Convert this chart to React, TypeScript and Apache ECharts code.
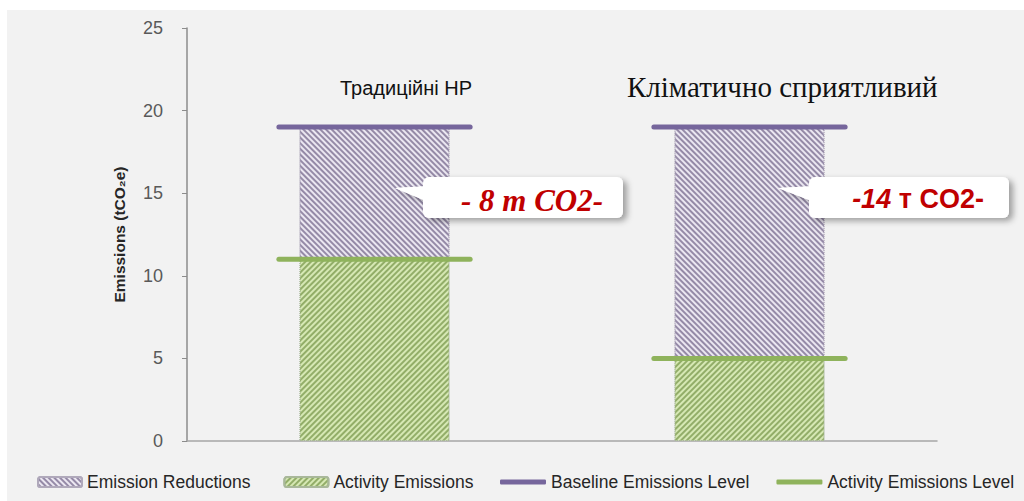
import React, { useEffect, useRef } from "react";
import * as echarts from "echarts";

const categories = ["Традиційні НР", "Кліматично сприятливий"];
const activityEmissions = [11, 5];
const emissionReductions = [8, 14];
const baselineLevel = [19, 19];
const activityLevel = [11, 5];
const calloutLeft = "- 8 т CO2-";
const calloutRightNum = "-14";
const calloutRightUnit = " т CO2-";
const yAxisName = "Emissions (tCO₂e)";
const seriesNames = [
  "Emission Reductions",
  "Activity Emissions",
  "Baseline Emissions Level",
  "Activity Emissions Level",
];

const PURPLE_LINE = "#76669c";
const GREEN_LINE = "#8fb35c";

function levelRenderer(color: string) {
  return (params: any, api: any) => {
    const c = api.coord([api.value(0), api.value(1)]);
    const w = api.size([1, 0])[0] * 0.51;
    return {
      type: "line",
      shape: { x1: c[0] - w / 2, y1: c[1], x2: c[0] + w / 2, y2: c[1] },
      style: { stroke: color, lineWidth: 5, lineCap: "round" },
    };
  };
}

export default function App() {
  const ref = useRef<HTMLDivElement>(null);
  useEffect(() => {
    if (!ref.current) return;
    const chart = echarts.init(ref.current, undefined, { renderer: "svg" });
    const purpleDecal = {
      symbol: "rect",
      color: "#958aa7",
      dashArrayX: [1, 0],
      dashArrayY: [2, 2],
      rotation: Math.PI / 4,
      symbolSize: 1,
    };
    const greenDecal = {
      symbol: "rect",
      color: "#92ad68",
      dashArrayX: [1, 0],
      dashArrayY: [2, 2],
      rotation: -Math.PI / 4,
      symbolSize: 1,
    };
    const calloutBox = (x: number, y: number, tx: number) => ({
      type: "group",
      children: [
        {
          type: "polygon",
          shape: { points: [[tx, y + 11], [x + 8, y + 9], [x + 8, y + 26]] },
          style: {
            fill: "#ffffff",
            shadowBlur: 5,
            shadowOffsetX: 2,
            shadowOffsetY: 3,
            shadowColor: "rgba(0,0,0,0.25)",
          },
          z: 9,
        },
        {
          type: "rect",
          shape: { x, y, width: 200, height: 41, r: 6 },
          style: {
            fill: "#ffffff",
            shadowBlur: 6,
            shadowOffsetX: 4,
            shadowOffsetY: 3,
            shadowColor: "rgba(0,0,0,0.35)",
          },
          z: 10,
        },
        {
          type: "polygon",
          shape: { points: [[tx, y + 11], [x + 8, y + 9], [x + 8, y + 26]] },
          style: { fill: "#ffffff" },
          z: 11,
        },
      ],
    });
    const legendText = { fontFamily: "Liberation Sans", fontSize: 17.5, color: "#262626" };
    chart.setOption({
      animation: false,
      backgroundColor: "transparent",
      grid: { left: 187, top: 28, bottom: 60, width: 750 },
      xAxis: {
        type: "category",
        data: categories,
        axisLabel: { show: false },
        axisTick: { show: false },
        axisLine: { lineStyle: { color: "#a6a6a6", width: 1.5 } },
      },
      yAxis: {
        type: "value",
        min: 0,
        max: 25,
        interval: 5,
        name: yAxisName,
        nameLocation: "middle",
        nameGap: 60,
        nameTextStyle: {
          fontFamily: "Liberation Sans",
          fontWeight: "bold",
          fontSize: 15.5,
          color: "#262626",
        },
        axisLine: { show: true, lineStyle: { color: "#8c8c8c", width: 1.5 } },
        axisTick: { show: true, length: 5, lineStyle: { color: "#8c8c8c" } },
        splitLine: { show: false },
        axisLabel: {
          fontFamily: "Liberation Sans",
          fontSize: 18,
          color: "#595959",
          margin: 24,
        },
      },
      legend: [
        {
          left: 32,
          top: 468,
          itemWidth: 44,
          itemHeight: 10,
          itemGap: 33,
          textStyle: legendText,
          data: [seriesNames[0], seriesNames[1]],
        },
        {
          left: 495,
          top: 468,
          itemWidth: 46,
          itemHeight: 5,
          itemGap: 27,
          textStyle: legendText,
          data: [
            { name: seriesNames[2], icon: "roundRect", itemStyle: { color: PURPLE_LINE } },
            { name: seriesNames[3], icon: "roundRect", itemStyle: { color: GREEN_LINE } },
          ],
        },
      ],
      series: [
        {
          name: seriesNames[1],
          type: "bar",
          stack: "total",
          barWidth: 150,
          data: activityEmissions,
          itemStyle: {
            color: "#d6e8b4",
            decal: greenDecal,
            borderColor: "#a9b89a",
            borderWidth: 1,
            borderType: "dotted",
          },
        },
        {
          name: seriesNames[0],
          type: "bar",
          stack: "total",
          barWidth: 150,
          data: emissionReductions,
          itemStyle: {
            color: "#ebe7f1",
            decal: purpleDecal,
            borderColor: "#b0a9bb",
            borderWidth: 1,
            borderType: "dotted",
          },
        },
        {
          name: seriesNames[2],
          type: "custom",
          renderItem: levelRenderer(PURPLE_LINE),
          data: baselineLevel.map((v, i) => [i, v]),
          itemStyle: { color: PURPLE_LINE },
          z: 5,
        },
        {
          name: seriesNames[3],
          type: "custom",
          renderItem: levelRenderer(GREEN_LINE),
          data: activityLevel.map((v, i) => [i, v]),
          itemStyle: { color: GREEN_LINE },
          z: 5,
        },
      ],
      graphic: [
        {
          type: "text",
          x: 340,
          y: 88,
          style: {
            text: categories[0],
            font: '20px "Liberation Sans"',
            fill: "#111",
            verticalAlign: "middle",
          },
        },
        {
          type: "text",
          x: 627,
          y: 87,
          style: {
            text: categories[1],
            font: '29px "Liberation Serif"',
            fill: "#111",
            verticalAlign: "middle",
          },
        },
        calloutBox(423, 177, 395),
        calloutBox(809, 177, 778),
        {
          type: "text",
          x: 532,
          y: 200,
          z: 12,
          style: {
            text: calloutLeft,
            font: 'italic bold 31px "Liberation Serif"',
            fill: "#c00000",
            align: "center",
            verticalAlign: "middle",
          },
        },
        {
          type: "text",
          x: 918,
          y: 199,
          z: 12,
          style: {
            text: "{a|" + calloutRightNum + "}{b|" + calloutRightUnit + "}",
            align: "center",
            verticalAlign: "middle",
            rich: {
              a: {
                font: 'italic bold 27px "Liberation Sans"',
                fill: "#c00000",
              },
              b: {
                font: 'bold 27px "Liberation Sans"',
                fill: "#c00000",
              },
            },
          },
        },
      ],
    });
    return () => chart.dispose();
  }, []);
  return (
    <div
      style={{
        position: "fixed",
        left: 0,
        top: 0,
        width: 1024,
        height: 501,
        background: "#ffffff",
      }}
    >
      <div
        style={{
          position: "absolute",
          left: 7,
          top: 10,
          right: 0,
          bottom: 0,
          background: "#f2f2f2",
        }}
      />
      <div ref={ref} style={{ position: "absolute", left: 0, top: 0, width: 1024, height: 501 }} />
    </div>
  );
}
